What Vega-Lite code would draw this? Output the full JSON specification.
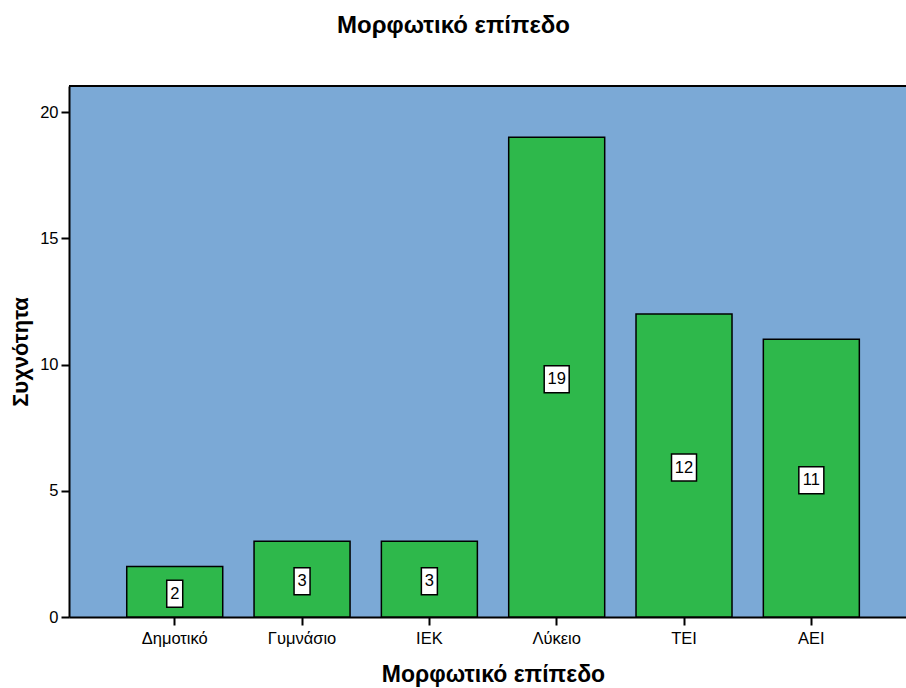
{
  "$schema": "https://vega.github.io/schema/vega-lite/v6.json",
  "autosize": "none",
  "padding": {"left": 69, "top": 86, "right": 0, "bottom": 71},
  "width": 837,
  "height": 531,
  "background": "white",
  "title": {
    "text": "Μορφωτικό επίπεδο",
    "font": "Liberation Sans",
    "fontSize": 24,
    "fontWeight": "bold",
    "color": "black",
    "anchor": "middle",
    "dx": -34,
    "offset": 47
  },
  "data": {
    "values": [
      {"level": "Δημοτικό", "count": 2},
      {"level": "Γυμνάσιο", "count": 3},
      {"level": "ΙΕΚ", "count": 3},
      {"level": "Λύκειο", "count": 19},
      {"level": "ΤΕΙ", "count": 12},
      {"level": "ΑΕΙ", "count": 11}
    ]
  },
  "config": {
    "view": {"fill": "#7BA9D6", "stroke": null},
    "axis": {
      "labelFont": "Liberation Sans",
      "labelFontSize": 16.5,
      "labelColor": "black",
      "titleFont": "Liberation Sans",
      "titleFontSize": 22,
      "titleFontWeight": "bold",
      "titleColor": "black",
      "domainColor": "black",
      "domainWidth": 2,
      "tickColor": "black",
      "tickWidth": 2,
      "tickSize": 8,
      "grid": false
    }
  },
  "resolve": {"scale": {"y": "independent"}},
  "layer": [
    {
      "mark": {"type": "bar", "fill": "#2EB84B", "stroke": "black", "strokeWidth": 1.5},
      "encoding": {
        "x": {
          "field": "level",
          "type": "nominal",
          "sort": ["Δημοτικό", "Γυμνάσιο", "ΙΕΚ", "Λύκειο", "ΤΕΙ", "ΑΕΙ"],
          "scale": {"paddingInner": 0.246, "paddingOuter": 0.41, "align": 0.553},
          "axis": {"title": "Μορφωτικό επίπεδο", "titleFontSize": 23, "titleX": 424, "labelAngle": 0, "labelPadding": 5, "titlePadding": 17}
        },
        "y": {
          "field": "count",
          "type": "quantitative",
          "scale": {"domain": [0, 21.03], "nice": false},
          "axis": {"title": "Συχνότητα", "values": [0, 5, 10, 15, 20], "labelPadding": 3, "titlePadding": 7}
        }
      }
    },
    {
      "mark": {"type": "rule", "color": "black", "strokeWidth": 2},
      "encoding": {
        "y": {"datum": 21.03, "type": "quantitative", "scale": {"domain": [0, 21.03], "nice": false}, "axis": null}
      }
    },
    {
      "transform": [{"filter": "datum.count < 10"}],
      "mark": {"type": "point", "shape": "M-8,-13.5H8V13.5H-8Z", "size": 4, "filled": true, "fill": "white", "stroke": "black", "strokeWidth": 1.5, "opacity": 1, "yOffset": 2},
      "encoding": {
        "x": {"field": "level", "type": "nominal", "sort": ["Δημοτικό", "Γυμνάσιο", "ΙΕΚ", "Λύκειο", "ΤΕΙ", "ΑΕΙ"]},
        "y": {"field": "count", "type": "quantitative", "scale": {"domain": [0, 42.06], "nice": false}, "axis": null}
      }
    },
    {
      "transform": [{"filter": "datum.count >= 10"}],
      "mark": {"type": "point", "shape": "M-12.5,-13.5H12.5V13.5H-12.5Z", "size": 4, "filled": true, "fill": "white", "stroke": "black", "strokeWidth": 1.5, "opacity": 1, "yOffset": 2},
      "encoding": {
        "x": {"field": "level", "type": "nominal", "sort": ["Δημοτικό", "Γυμνάσιο", "ΙΕΚ", "Λύκειο", "ΤΕΙ", "ΑΕΙ"]},
        "y": {"field": "count", "type": "quantitative", "scale": {"domain": [0, 42.06], "nice": false}, "axis": null}
      }
    },
    {
      "mark": {"type": "text", "font": "Liberation Sans", "fontSize": 16.5, "color": "black", "baseline": "middle", "align": "center", "yOffset": 2},
      "encoding": {
        "x": {"field": "level", "type": "nominal", "sort": ["Δημοτικό", "Γυμνάσιο", "ΙΕΚ", "Λύκειο", "ΤΕΙ", "ΑΕΙ"]},
        "y": {"field": "count", "type": "quantitative", "scale": {"domain": [0, 42.06], "nice": false}, "axis": null},
        "text": {"field": "count", "type": "quantitative"}
      }
    }
  ]
}
